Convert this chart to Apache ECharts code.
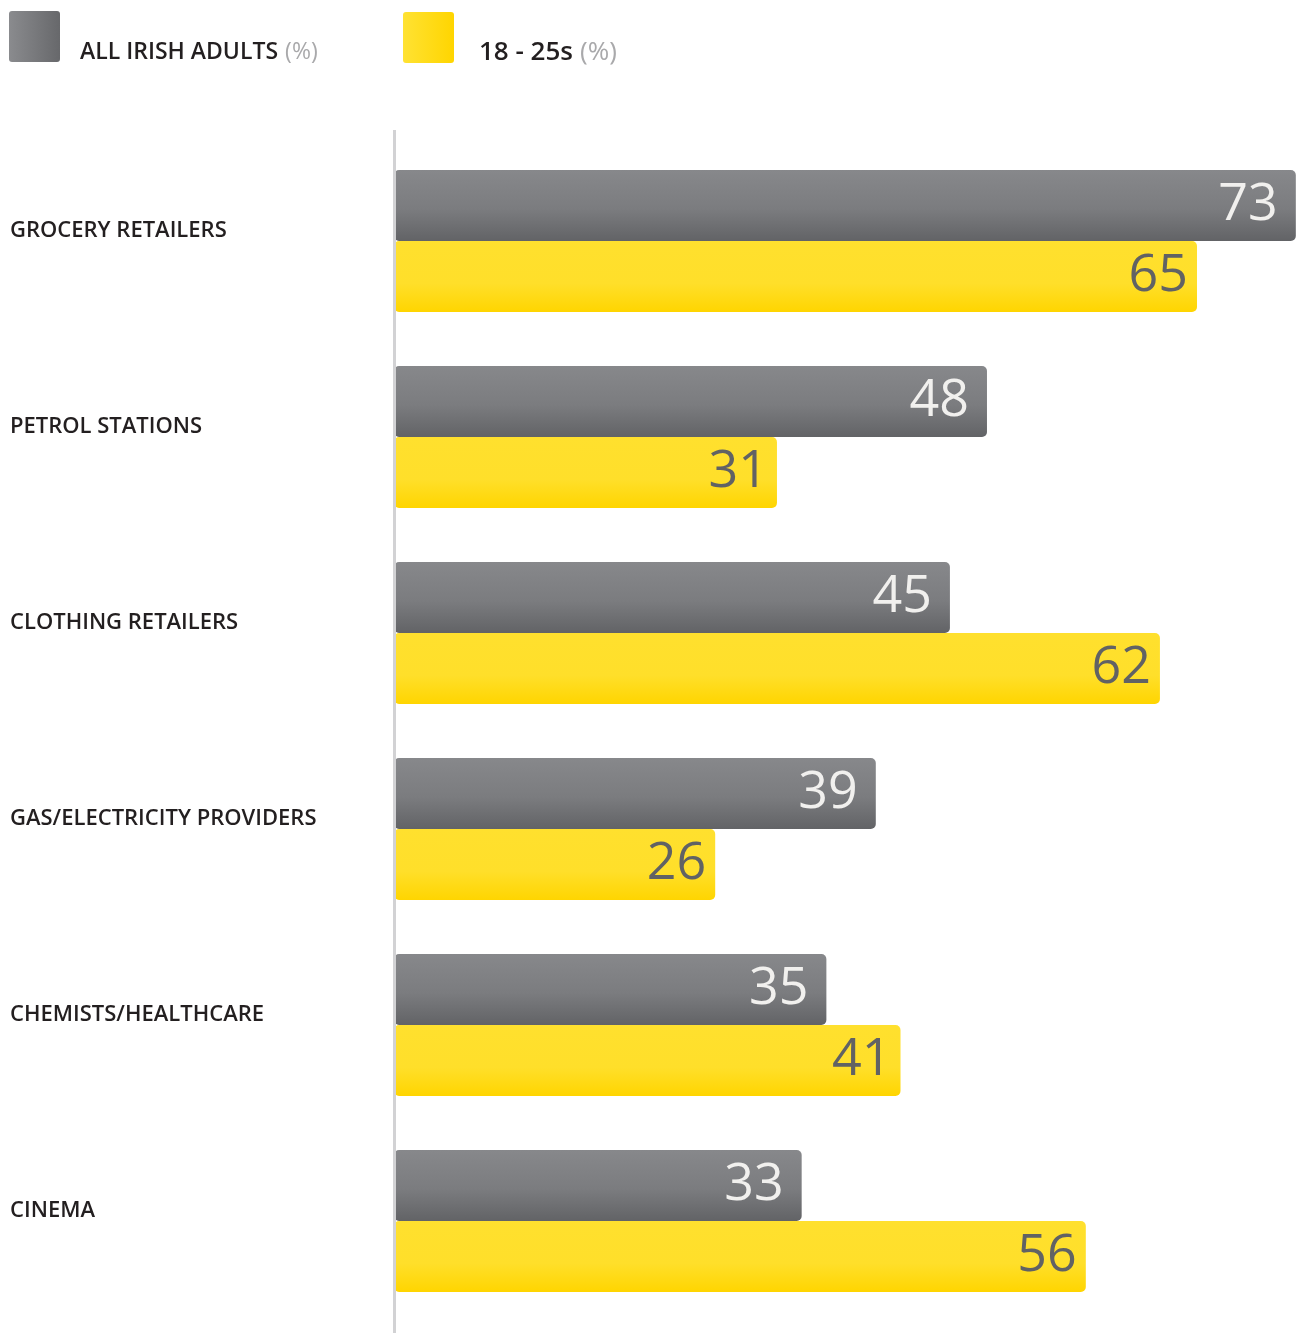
<!DOCTYPE html>
<html><head><meta charset="utf-8">
<script src="https://cdn.jsdelivr.net/npm/echarts@6/dist/echarts.min.js"></script>
<style>html,body{margin:0;padding:0;background:#fff}#c{width:1308px;height:1333px}</style>
</head><body><div id="c"></div>
<script>
const categories = ['GROCERY RETAILERS','PETROL STATIONS','CLOTHING RETAILERS','GAS/ELECTRICITY PROVIDERS','CHEMISTS/HEALTHCARE','CINEMA'];
const allAdults = [73,48,45,39,35,33];
const young = [65,31,62,26,41,56];
const seriesNames = ['ALL IRISH ADULTS','18 - 25s'];

const grayGrad = new echarts.graphic.LinearGradient(0,0,0,1,[{offset:0,color:'#87888b'},{offset:0.55,color:'#7b7c7f'},{offset:1,color:'#626366'}]);
const yellowGrad = new echarts.graphic.LinearGradient(0,0,0,1,[{offset:0,color:'#ffe02e'},{offset:0.6,color:'#ffdf2a'},{offset:1,color:'#ffd500'}]);
const grayLegend = new echarts.graphic.LinearGradient(0,0,1,0,[{offset:0,color:'#8a8b8e'},{offset:1,color:'#67686b'}]);
const yellowLegend = new echarts.graphic.LinearGradient(0,0,1,0,[{offset:0,color:'#ffe233'},{offset:1,color:'#ffd500'}]);
const FONT = '"Open Sans", "Noto Sans", sans-serif';
const ICON = 'path://M3,0H48A3,3,0,0,1,51,3V48A3,3,0,0,1,48,51H3A3,3,0,0,1,0,48V3A3,3,0,0,1,3,0Z';

const chart = echarts.init(document.getElementById('c'), null, {renderer:'canvas'});
function legendFor(name, color, left, top, gap, size) {
  return {
    left: left, top: top, padding: 0, itemWidth: 51, itemHeight: 51, icon: ICON,
    selectedMode: false,
    data: [{name: name, itemStyle: {color: color}}],
    formatter: n => '{a|' + n + '}{s| }{b|(%)}',
    textStyle: {
      padding: [31,0,0,gap],
      rich: {
        a: {fontFamily: FONT, fontSize: size, fontWeight: 600, color: '#231f20', lineHeight: 21},
        s: {fontFamily: FONT, fontSize: size, width: 7, lineHeight: 21},
        b: {fontFamily: FONT, fontSize: size, fontWeight: 400, color: '#a9a9ab', lineHeight: 21}
      }
    }
  };
}
chart.setOption({
  animation: false,
  legend: [
    legendFor(seriesNames[0], grayLegend, 9, 11, 15, 23),
    legendFor(seriesNames[1], yellowLegend, 403, 12, 20, 26)
  ],
  grid: {left: 394, right: 6, top: 143, bottom: 14, containLabel: false},
  xAxis: {type: 'value', min: 0, max: 73.5, show: false},
  yAxis: {
    type: 'category', inverse: true, data: categories,
    axisLine: {show: false}, axisTick: {show: false},
    axisLabel: {
      align: 'left', verticalAlign: 'bottom', lineHeight: 20, margin: 384, fontFamily: FONT, fontSize: 22, fontWeight: 600,
      color: '#231f20'
    }
  },
  graphic: [{type: 'line', shape: {x1: 394.5, y1: 130, x2: 394.5, y2: 1333}, style: {stroke: '#d2d2d4', lineWidth: 3}, z: 10}],
  series: [
    {
      name: seriesNames[0], type: 'bar', data: allAdults, barWidth: 71, barGap: '0%',
      itemStyle: {color: grayGrad, borderRadius: 5},
      label: {show: true, position: 'insideRight', distance: 18, fontFamily: FONT, fontSize: 52, fontWeight: 500, color: '#f1f0ee'}
    },
    {
      name: seriesNames[1], type: 'bar', data: young, barWidth: 71, barGap: '0%',
      itemStyle: {color: yellowGrad, borderRadius: 5},
      label: {show: true, position: 'insideRight', distance: 9, fontFamily: FONT, fontSize: 52, fontWeight: 500, color: '#616264'}
    }
  ]
});
</script></body></html>
